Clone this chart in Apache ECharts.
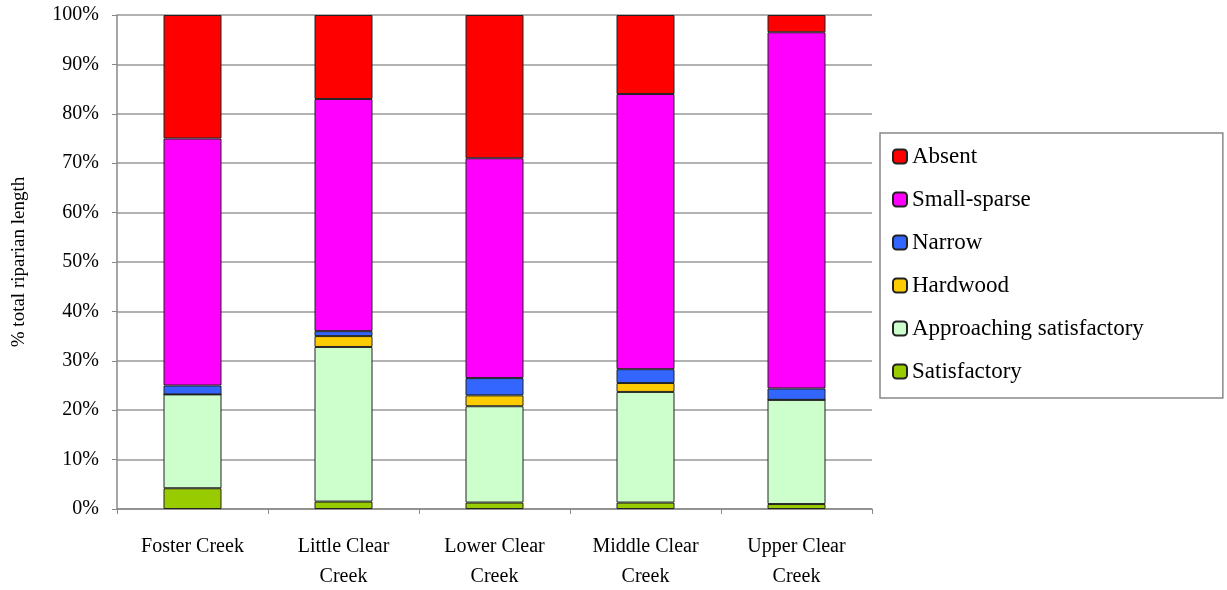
<!DOCTYPE html>
<html>
<head>
<meta charset="utf-8">
<script src="https://cdn.jsdelivr.net/npm/echarts@6/dist/echarts.min.js"></script>
<style>
  html, body { margin: 0; padding: 0; background: #fff; }
  #chart { width: 1227px; height: 590px; }
</style>
</head>
<body>
<div id="chart"></div>
<script>
// creeks along the x axis
const creeks = ['Foster Creek', 'Little Clear\nCreek', 'Lower Clear\nCreek', 'Middle Clear\nCreek', 'Upper Clear\nCreek']

// % of riparian length per class, bottom to top of each bar
const satisfactory = [4.2, 1.5, 1.3, 1.3, 1.0]
const approaching = [19.0, 31.3, 19.5, 22.4, 21.1]
const hardwood = [0, 2.2, 2.2, 1.8, 0]
const narrow = [1.8, 1.0, 3.5, 2.8, 2.3]
const smallSparse = [50.0, 47.0, 44.5, 55.7, 72.1]
const absent = [25.0, 17.0, 29.0, 16.0, 3.5]

const yTicks = [0, 10, 20, 30, 40, 50, 60, 70, 80, 90, 100]

const layers = [
  { name: 'Satisfactory', data: satisfactory, color: '#99cc00' },
  { name: 'Approaching satisfactory', data: approaching, color: '#ccffcc' },
  { name: 'Hardwood', data: hardwood, color: '#ffcc00' },
  { name: 'Narrow', data: narrow, color: '#3366ff' },
  { name: 'Small-sparse', data: smallSparse, color: '#ff00ff' },
  { name: 'Absent', data: absent, color: '#ff0000' },
]

const serif = 'Liberation Serif'
const chart = echarts.init(document.getElementById('chart'))

chart.setOption({
  animation: false,
  backgroundColor: '#fff',
  grid: { left: 117, right: 355, top: 15, bottom: 81, outerBoundsMode: 'none' },
  legend: {
    orient: 'vertical',
    left: 880,
    top: 133,
    data: layers.map(l => l.name).reverse(),
    itemWidth: 14,
    itemHeight: 14,
    itemGap: 20,
    itemTextGap: 10,
    padding: [12, 79, 15, 12],
    borderColor: '#888',
    borderWidth: 1.5,
    textStyle: { fontFamily: serif, fontSize: 23, color: '#000' },
  },
  xAxis: {
    type: 'category',
    data: creeks,
    axisLine: { lineStyle: { color: '#888', width: 1.5 } },
    axisTick: { show: true, length: 5, lineStyle: { color: '#888' } },
    axisLabel: { fontFamily: serif, fontSize: 20, color: '#000', margin: 23, lineHeight: 30 },
  },
  yAxis: {
    type: 'value',
    min: 0,
    max: 100,
    interval: 10,
    name: '% total riparian length',
    nameLocation: 'middle',
    nameRotate: 90,
    nameGap: 88,
    nameTextStyle: { fontFamily: serif, fontSize: 19, color: '#000' },
    axisLine: { show: true, lineStyle: { color: '#888', width: 1.5 } },
    axisTick: { show: true, length: 5, lineStyle: { color: '#888' } },
    splitLine: { lineStyle: { color: '#999', width: 1.5 } },
    axisLabel: {
      fontFamily: serif, fontSize: 20, color: '#000', margin: 18,
      formatter: v => yTicks.includes(v) ? v + '%' : ''
    },
  },
  series: layers.map(l => ({
    name: l.name,
    type: 'bar',
    stack: 'total',
    barWidth: 58,
    data: l.data,
    itemStyle: { color: l.color, borderColor: '#222', borderWidth: 1 },
  })),
})
</script>
</body>
</html>
